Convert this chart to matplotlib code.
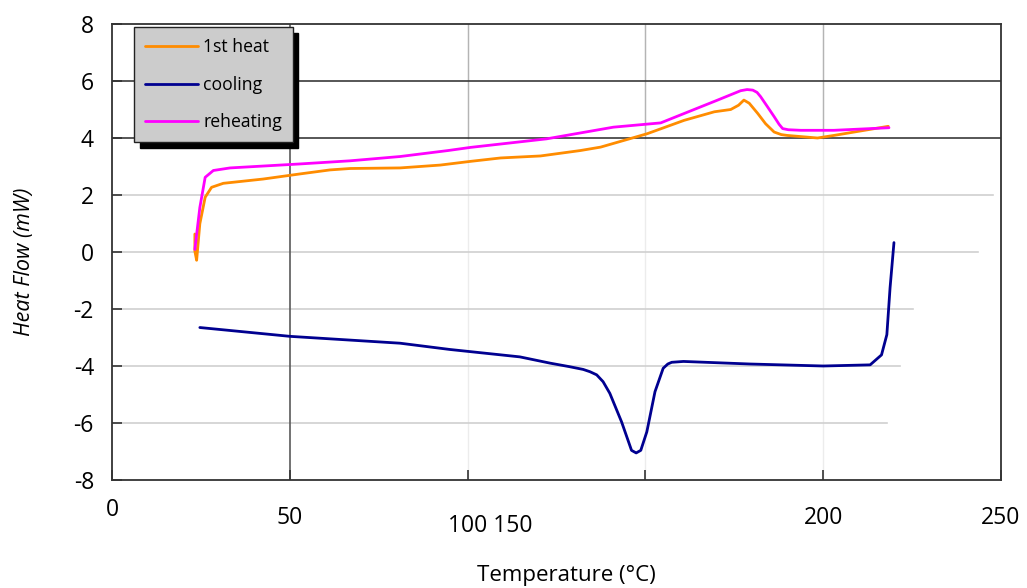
import matplotlib
matplotlib.use("Agg")
import matplotlib.pyplot as plt
from matplotlib.transforms import blended_transform_factory

plt.rcParams["font.family"] = ["Open Sans", "DejaVu Sans"]

# 1st heat (temperature in C, heat flow in mW)
HEAT1_T = [23.3, 23.3, 23.8, 24.7, 26.2, 28.0, 31.3, 42.5, 52.9, 61.3, 67.0,
           81.0, 92.3, 100.8, 109.3, 120.5, 131.7, 137.4, 150.5, 160.9, 169.4,
           174.0, 176.2, 177.7, 179.2, 181.6, 183.8, 186.2, 188.2, 189.9,
           198.4, 203.0, 218.3]
HEAT1_Q = [0.63, 0.03, -0.29, 0.99, 1.92, 2.27, 2.41, 2.56, 2.74, 2.88, 2.93,
           2.95, 3.05, 3.18, 3.30, 3.37, 3.56, 3.68, 4.15, 4.62, 4.92,
           5.00, 5.15, 5.33, 5.22, 4.86, 4.50, 4.21, 4.12, 4.09,
           4.00, 4.09, 4.41]

# cooling
COOL_T = [24.7, 50.1, 81.0, 95.0, 114.7, 123.2, 128.5, 132.5, 134.4, 136.3,
          138.1, 140.0, 143.3, 146.1, 147.4, 148.7, 150.4, 152.7, 155.0, 156.3,
          157.4, 160.7, 179.4, 200.0, 213.2, 216.4, 217.9, 218.8, 219.9]
COOL_Q = [-2.65, -2.96, -3.20, -3.42, -3.68, -3.90, -4.02, -4.12, -4.20, -4.31,
          -4.55, -4.96, -5.96, -6.96, -7.05, -6.96, -6.31, -4.90, -4.08, -3.93,
          -3.87, -3.84, -3.93, -4.00, -3.96, -3.61, -2.90, -1.26, 0.33]

# reheating
HEAT2_T = [23.3, 24.7, 26.2, 28.5, 33.2, 50.1, 52.9, 67.0, 81.0, 94.5, 100.8,
           122.2, 141.0, 154.3, 160.9, 170.3, 176.8, 178.6, 180.2, 181.4,
           182.4, 184.2, 186.2, 187.6, 188.6, 190.2, 193.7, 203.0, 218.5]
HEAT2_Q = [0.09, 1.56, 2.62, 2.86, 2.95, 3.07, 3.09, 3.20, 3.35, 3.56, 3.67,
           3.97, 4.38, 4.53, 4.86, 5.33, 5.66, 5.70, 5.68, 5.60,
           5.45, 5.12, 4.75, 4.48, 4.33, 4.29, 4.27, 4.27, 4.36]

SERIES = ["1st heat", "cooling", "reheating"]
COLORS = ["#ff8c00", "#000090", "#ff00ff"]

X_TICKS = [0, 50, 100, 150, 200, 250]
X_TICK_LABELS = ["0", "50", "100", "150", "200", "250"]
Y_TICKS = [-8, -6, -4, -2, 0, 2, 4, 6, 8]

# horizontal light gridlines fade out towards the right
LIGHT_Y = [2, 0, -2, -4, -6]
LIGHT_Y_END = [993, 978, 913, 900, 887]


def main() -> None:
    fig = plt.figure(figsize=(10.27, 5.88), dpi=100)
    ax = fig.add_axes([112 / 1027, 1 - 480 / 588, 889 / 1027, 456 / 588])
    ax.set_xlim(0, 250)
    ax.set_ylim(-8, 8)

    # grid
    for x in [100, 150, 200]:
        ax.axvline(x, color="#ececec", lw=1.0, zorder=0)
        ax.axvline(x, ymin=0.75, ymax=1.0, color="#b4b4b4", lw=1.0, zorder=0)
    for y, end_px in zip(LIGHT_Y, LIGHT_Y_END):
        ax.plot([0, (end_px - 112) / 889 * 250], [y, y], color="#d0d0d0",
                lw=1.2, zorder=0.5)
    for y in [4, 6]:
        ax.axhline(y, color="#3a3a3a", lw=1.2, zorder=1)
    ax.axvline(50, color="#5a5a5a", lw=1.2, zorder=1)

    lines = []
    for t, q, name, color in zip([HEAT1_T, COOL_T, HEAT2_T],
                                 [HEAT1_Q, COOL_Q, HEAT2_Q], SERIES, COLORS):
        (ln,) = ax.plot(t, q, color=color, lw=2.0, label=name, zorder=3,
                        solid_joinstyle="round", solid_capstyle="round")
        lines.append(ln)

    for spine in ax.spines.values():
        spine.set_color("#333333")
        spine.set_linewidth(1.3)

    ax.set_yticks(Y_TICKS)
    ax.set_yticklabels([str(v) for v in Y_TICKS])
    ax.set_xticks(X_TICKS)
    ax.set_xticklabels(["0", "50", "", "", "200", "250"])
    ax.tick_params(axis="both", direction="in", length=7, width=1.2,
                   color="#333333", labelsize=16.5)
    ax.tick_params(axis="y", pad=13)
    ax.tick_params(axis="x", pad=19)
    ax.xaxis.get_major_ticks()[0].set_pad(13)

    trans = blended_transform_factory(ax.transData, ax.transAxes)
    ax.text(106.4, -0.074, " ".join(X_TICK_LABELS[2:4]), transform=trans,
            ha="center", va="top", fontsize=16.5)

    ax.set_xlabel("Temperature (°C)", fontsize=16)
    ax.xaxis.set_label_coords(0.511, -0.186)
    ax.set_ylabel("Heat Flow (mW)", fontsize=15.5, style="italic")
    ax.yaxis.set_label_coords(-0.087, 0.478)

    leg = ax.legend(handles=lines, loc="upper left",
                    bbox_to_anchor=(22 / 889, 453 / 456), borderaxespad=0,
                    fontsize=12.7, fancybox=False, framealpha=1,
                    handlelength=3.0, handletextpad=0.3, labelspacing=1.12,
                    borderpad=0.62,
                    shadow={"ox": 4, "oy": -4, "facecolor": "black",
                            "edgecolor": "black", "alpha": 1})
    frame = leg.get_frame()
    frame.set_facecolor("#cccccc")
    frame.set_edgecolor("#222222")
    frame.set_linewidth(1.0)
    leg.set_zorder(5)

    fig.savefig("out.png", dpi=100)


if __name__ == "__main__":
    main()
